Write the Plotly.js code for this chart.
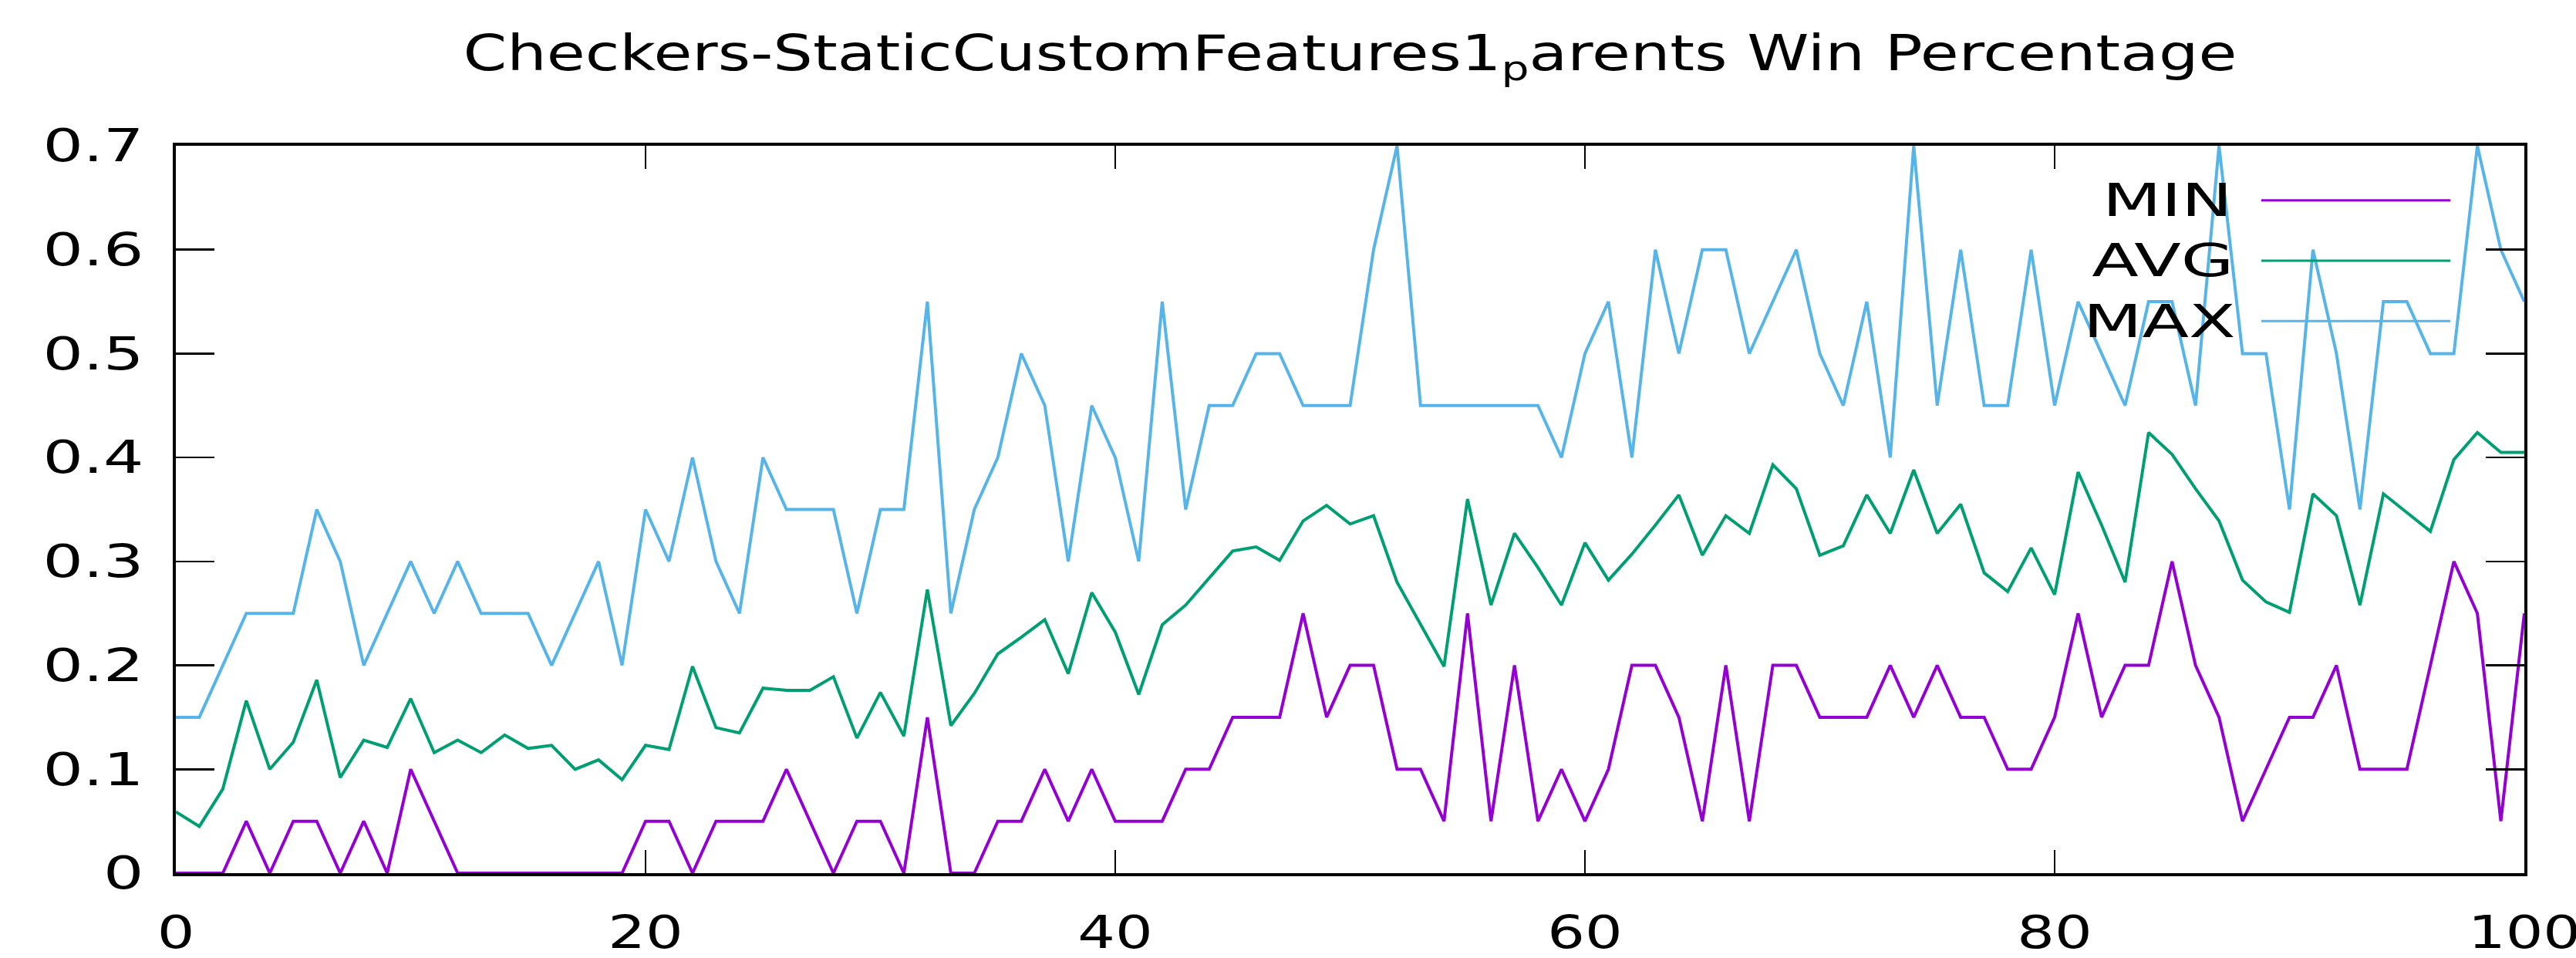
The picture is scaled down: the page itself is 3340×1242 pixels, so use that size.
<!DOCTYPE html>
<html>
<head>
<meta charset="utf-8">
<script src="https://cdn.plot.ly/plotly-3.0.1.min.js"></script>
<style>
  html, body { margin: 0; padding: 0; background: #ffffff; }
  #chart { width: 3340px; height: 1242px; }
</style>
</head>
<body>
<div id="chart"></div>
<script>
// ---- data ----
const generations = Array.from({length: 101}, (_, i) => i);

const minValues = [
  0, 0, 0, 0.05, 0, 0.05, 0.05, 0, 0.05, 0,
  0.1, 0.05, 0, 0, 0, 0, 0, 0, 0, 0,
  0.05, 0.05, 0, 0.05, 0.05, 0.05, 0.1, 0.05, 0, 0.05,
  0.05, 0, 0.15, 0, 0, 0.05, 0.05, 0.1, 0.05, 0.1,
  0.05, 0.05, 0.05, 0.1, 0.1, 0.15, 0.15, 0.15, 0.25, 0.15,
  0.2, 0.2, 0.1, 0.1, 0.05, 0.25, 0.05, 0.2, 0.05, 0.1,
  0.05, 0.1, 0.2, 0.2, 0.15, 0.05, 0.2, 0.05, 0.2, 0.2,
  0.15, 0.15, 0.15, 0.2, 0.15, 0.2, 0.15, 0.15, 0.1, 0.1,
  0.15, 0.25, 0.15, 0.2, 0.2, 0.3, 0.2, 0.15, 0.05, 0.1,
  0.15, 0.15, 0.2, 0.1, 0.1, 0.1, 0.2, 0.3, 0.25, 0.05,
  0.25
];

const avgValues = [
  0.059, 0.045, 0.081, 0.166, 0.100, 0.126, 0.186, 0.092, 0.128, 0.121,
  0.168, 0.116, 0.128, 0.116, 0.133, 0.120, 0.123, 0.100, 0.109, 0.090,
  0.123, 0.119, 0.199, 0.140, 0.135, 0.178, 0.176, 0.176, 0.189, 0.130,
  0.174, 0.132, 0.273, 0.142, 0.173, 0.211, 0.227, 0.244, 0.192, 0.270,
  0.232, 0.172, 0.239, 0.258, 0.284, 0.310, 0.314, 0.301, 0.339, 0.354,
  0.336, 0.344, 0.280, 0.240, 0.199, 0.360, 0.258, 0.327, 0.294, 0.258,
  0.318, 0.282, 0.307, 0.335, 0.364, 0.306, 0.344, 0.327, 0.393, 0.370,
  0.306, 0.315, 0.364, 0.327, 0.388, 0.327, 0.355, 0.289, 0.271, 0.313,
  0.268, 0.386, 0.335, 0.280, 0.424, 0.403, 0.370, 0.339, 0.282, 0.261,
  0.251, 0.365, 0.344, 0.258, 0.365, 0.347, 0.329, 0.398, 0.424, 0.405,
  0.405
];

const maxValues = [
  0.15, 0.15, 0.2, 0.25, 0.25, 0.25, 0.35, 0.3, 0.2, 0.25,
  0.3, 0.25, 0.3, 0.25, 0.25, 0.25, 0.2, 0.25, 0.3, 0.2,
  0.35, 0.3, 0.4, 0.3, 0.25, 0.4, 0.35, 0.35, 0.35, 0.25,
  0.35, 0.35, 0.55, 0.25, 0.35, 0.4, 0.5, 0.45, 0.3, 0.45,
  0.4, 0.3, 0.55, 0.35, 0.45, 0.45, 0.5, 0.5, 0.45, 0.45,
  0.45, 0.6, 0.7, 0.45, 0.45, 0.45, 0.45, 0.45, 0.45, 0.4,
  0.5, 0.55, 0.4, 0.6, 0.5, 0.6, 0.6, 0.5, 0.55, 0.6,
  0.5, 0.45, 0.55, 0.4, 0.7, 0.45, 0.6, 0.45, 0.45, 0.6,
  0.45, 0.55, 0.5, 0.45, 0.55, 0.55, 0.45, 0.7, 0.5, 0.5,
  0.35, 0.6, 0.5, 0.35, 0.55, 0.55, 0.5, 0.5, 0.7, 0.6,
  0.55
];

const seriesNames = ['MIN', 'AVG', 'MAX'];
const seriesColors = ['#9400D3', '#009E73', '#56B4E9'];
const xTickVals = [0, 20, 40, 60, 80, 100];
const yTickVals = [0, 0.1, 0.2, 0.3, 0.4, 0.5, 0.6, 0.7];
const yTickText = ['0', '0.1', '0.2', '0.3', '0.4', '0.5', '0.6', '0.7'];
const chartTitle = 'Checkers-StaticCustomFeatures1<sub>p</sub>arents Win Percentage';

// ---- traces ----
const seriesValues = [minValues, avgValues, maxValues];
const traces = seriesValues.map((vals, i) => ({
  type: 'scatter',
  mode: 'lines',
  name: seriesNames[i],
  x: generations,
  y: vals,
  line: { color: seriesColors[i], width: 4 },
  hoverinfo: 'skip',
  showlegend: false
}));

// ---- gnuplot-style key: text right-aligned, long line sample to its right ----
const keyTextX = 0.867;
const keyLineX0 = 0.888, keyLineX1 = 0.9685;
const keyRowsY = [0.925, 0.842, 0.759];
const annotations = seriesNames.map((n, i) => ({
  xref: 'paper', yref: 'paper',
  x: keyTextX, y: keyRowsY[i],
  xanchor: 'right', yanchor: 'middle',
  text: n, showarrow: false,
  font: { family: 'DejaVu Sans', size: 59, color: '#000000' }
}));
const shapes = seriesNames.map((n, i) => ({
  type: 'line', xref: 'paper', yref: 'paper',
  x0: keyLineX0, x1: keyLineX1, y0: keyRowsY[i], y1: keyRowsY[i],
  line: { color: seriesColors[i], width: 3 },
  layer: 'above'
}));

const axisCommon = {
  showgrid: false,
  zeroline: false,
  showline: true,
  linecolor: '#000000',
  linewidth: 4,
  mirror: 'ticks',
  ticks: 'inside',
  tickcolor: '#000000',
  tickwidth: 2.5,
  layer: 'above traces',
  tickfont: { family: 'DejaVu Sans', size: 58, color: '#000000' }
};

const layout = {
  width: 3340,
  height: 1242,
  paper_bgcolor: '#ffffff',
  plot_bgcolor: '#ffffff',
  margin: { l: 228, r: 67, t: 189, b: 110, pad: 0 },
  title: {
    text: chartTitle,
    x: 0.5, xref: 'paper', xanchor: 'center',
    y: 0.945, yref: 'container', yanchor: 'middle',
    font: { family: 'DejaVu Sans', size: 64, color: '#000000' }
  },
  xaxis: Object.assign({}, axisCommon, {
    range: [0, 100],
    tickmode: 'array',
    tickvals: xTickVals,
    ticklen: 30,
    ticklabelstandoff: 23
  }),
  yaxis: Object.assign({}, axisCommon, {
    range: [0, 0.7],
    tickmode: 'array',
    tickvals: yTickVals,
    ticktext: yTickText,
    ticklen: 50,
    ticklabelstandoff: 26
  }),
  annotations: annotations,
  shapes: shapes,
  showlegend: false
};

function stretchText(nodes, factor, target) {
  nodes.forEach(t => {
    const L = t.getComputedTextLength();
    if (!L) return;
    t.setAttribute('textLength', target ? target : L * factor);
    t.setAttribute('lengthAdjust', 'spacingAndGlyphs');
  });
}

Plotly.newPlot('chart', traces, layout, { staticPlot: true, displayModeBar: false }).then(gd => {
  // the reference glyphs are horizontally wider than DejaVu Sans
  stretchText(gd.querySelectorAll('.ytick text'), 1.42);
  stretchText(gd.querySelectorAll('.xtick text'), 1.32);
  stretchText(gd.querySelectorAll('.annotation-text'), 1.5);
  stretchText(gd.querySelectorAll('.gtitle'), 1, 2300);
});
</script>
</body>
</html>
